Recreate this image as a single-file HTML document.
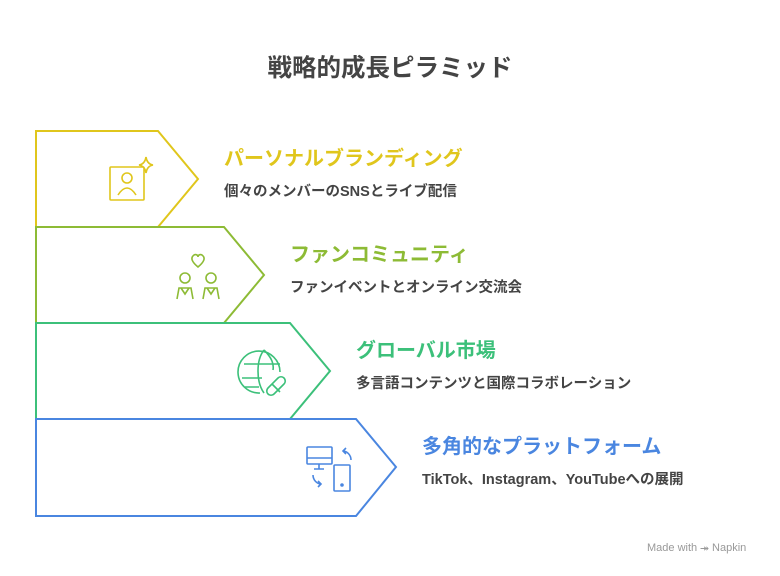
<!DOCTYPE html>
<html><head><meta charset="utf-8"><style>
body{margin:0;width:780px;height:576px;background:#fff;font-family:"Liberation Sans","Noto Sans CJK JP",sans-serif;position:relative;overflow:hidden}
.t{position:absolute;white-space:nowrap;font-weight:bold}
.h{font-size:20px}
.d{font-size:14.5px;color:#444}
</style></head><body>
<div class="t" style="left:0;width:780px;text-align:center;top:49px;font-size:24.5px;color:#444">戦略的成長ピラミッド</div>
<svg width="780" height="576" style="position:absolute;left:0;top:0" fill="none" stroke-width="2" stroke-linejoin="miter">
<path d="M36,131 H158 L198,179 L158,227 H36 Z" stroke="#e0c61c"/>
<path d="M36,227 H224 L264,275 L224,323 H36 Z" stroke="#8dbb35"/>
<path d="M36,323 H290 L330,371 L290,419 H36 Z" stroke="#3cc07a"/>
<path d="M36,419 H356 L396,467 L356,516 H36 Z" stroke="#4a86e0"/>
<g stroke="#e0c61c" stroke-width="1.6">
<rect x="110" y="167" width="34" height="33" rx="1"/>
<circle cx="127" cy="178" r="5"/><path d="M118,195 q9,-14 18,0"/>
<path d="M146,157 q1,7 7,8 q-6,1 -7,8 q-1,-7 -7,-8 q6,-1 7,-8z"/>
</g>
<g stroke="#8dbb35" stroke-width="1.6">
<path d="M198,267 c-6,-5 -8,-9 -4,-12 c2,-1 4,0 4,2 c0,-2 2,-3 4,-2 c4,3 2,7 -4,12z"/>
<circle cx="185" cy="278" r="5"/><circle cx="211" cy="278" r="5"/>
<path d="M177,299 l2,-11 h12 l2,11 M181,288 l4,6 l4,-6"/>
<path d="M203,299 l2,-11 h12 l2,11 M207,288 l4,6 l4,-6"/>
</g>
<g stroke="#3cc07a" stroke-width="1.6">
<path d="M280,372 a21,21 0 1 0 -20,21"/>
<path d="M264,350 c-8,10 -8,32 0,43 M264,350 c8,8 10,14 9,20 M244,364 h36 M242,378 h20 M245,387 h14"/>
<path d="M268,388 l10,-10 a4,4 0 0 1 6,6 l-10,10 a4,4 0 0 1 -6,-6z M272,384 l8,8"/>
</g>
<g stroke="#4a86e0" stroke-width="1.6">
<rect x="307" y="447" width="25" height="17" rx="1"/><path d="M307,458 h25 M319,464 v5 M314,469 h10"/>
<rect x="334" y="465" width="16" height="26" rx="1"/><circle cx="342" cy="485" r="1" fill="#4a86e0"/>
<path d="M351,460 c0,-5 -4,-9 -8,-9 M346,448 l-3,3 l3,3"/>
<path d="M313,475 c0,5 4,9 8,9 M318,481 l3,3 l-3,3"/>
</g>
</svg>
<div class="t h" style="left:224px;top:142px;color:#e0c61c">パーソナルブランディング</div>
<div class="t d" style="left:224px;top:180px">個々のメンバーのSNSとライブ配信</div>
<div class="t h" style="left:290px;top:238px;color:#8dbb35">ファンコミュニティ</div>
<div class="t d" style="left:290px;top:276px">ファンイベントとオンライン交流会</div>
<div class="t h" style="left:356px;top:334px;color:#3cc07a">グローバル市場</div>
<div class="t d" style="left:356px;top:372px">多言語コンテンツと国際コラボレーション</div>
<div class="t h" style="left:422px;top:430px;color:#4a86e0">多角的なプラットフォーム</div>
<div class="t d" style="left:422px;top:468px">TikTok、Instagram、YouTubeへの展開</div>
<div class="t" style="left:647px;top:542px;font-size:11px;color:#999;font-weight:normal">Made with ⯮ Napkin</div>
</body></html>
